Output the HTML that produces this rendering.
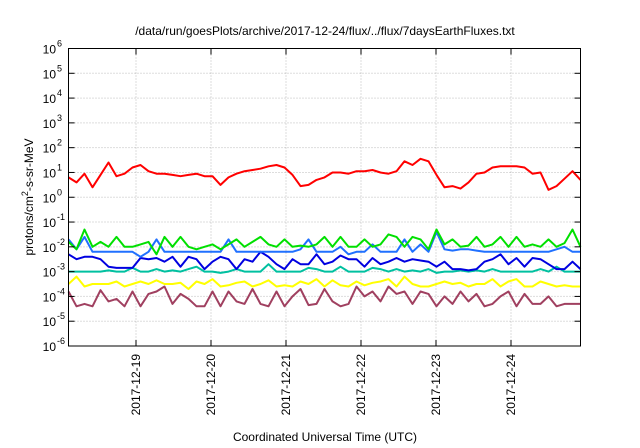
<!DOCTYPE html>
<html><head><meta charset="utf-8"><style>
html,body{margin:0;padding:0;background:#fff;}
svg{display:block;font-family:"Liberation Sans",sans-serif;}
</style></head><body>
<svg id="chart" width="640" height="448" viewBox="0 0 640 448" xmlns="http://www.w3.org/2000/svg">
<text x="325" y="35" font-size="12" text-anchor="middle">/data/run/goesPlots/archive/2017-12-24/flux/../flux/7daysEarthFluxes.txt</text>
<text x="325" y="441" font-size="12" text-anchor="middle">Coordinated Universal Time (UTC)</text>
<text transform="translate(33,197) rotate(-90)" font-size="12" text-anchor="middle">protons/cm<tspan dy="-5" font-size="9">2</tspan><tspan dy="5">-s-sr-MeV</tspan></text>
<g id="grid"></g><g id="series"></g><g id="axes"></g>
</svg>
<script>
const xTickLabels=["2017-12-19","2017-12-20","2017-12-21","2017-12-22","2017-12-23","2017-12-24"];
const xTickPos=[0.0854,0.1829,0.2805,0.3781,0.4756,0.5732]; // fraction of days since 12-18 start mapped below
const yExps=[-6,-5,-4,-3,-2,-1,0,1,2,3,4,5,6];
const red=[0.8,0.6,0.95,0.4,0.9,1.4,0.85,0.95,1.2,1.3,1.05,0.95,0.95,0.9,0.85,0.9,0.95,0.85,0.85,0.5,0.8,0.95,1.05,1.1,1.15,1.25,1.3,1.2,0.9,0.45,0.5,0.7,0.8,1.0,1.0,0.95,1.05,1.05,1.1,1.0,0.95,1.05,1.45,1.3,1.55,1.45,0.9,0.4,0.45,0.35,0.6,0.95,1.0,1.2,1.25,1.25,1.25,1.2,0.95,1.0,0.3,0.45,0.75,1.05,0.7];
const green=[-1.8,-2.1,-1.3,-2.0,-1.8,-2.0,-1.6,-2.0,-2.0,-1.9,-1.8,-2.3,-1.6,-2.0,-1.6,-2.0,-2.1,-2.0,-1.9,-2.1,-1.9,-1.7,-2.0,-1.8,-1.6,-1.9,-2.0,-1.7,-2.0,-1.95,-2.0,-1.9,-1.6,-2.0,-1.6,-2.0,-2.0,-1.7,-2.0,-1.9,-1.5,-1.6,-2.0,-1.6,-1.7,-2.1,-1.3,-1.9,-1.7,-2.0,-1.95,-1.6,-2.0,-1.9,-1.6,-2.0,-1.6,-2.0,-1.9,-2.0,-1.7,-2.0,-1.85,-1.3,-2.0];
const lblue=[-1.7,-2.1,-1.6,-2.2,-2.2,-2.2,-2.2,-2.2,-2.2,-2.4,-2.2,-1.7,-2.2,-2.2,-2.2,-2.2,-2.2,-2.2,-2.2,-2.2,-1.7,-2.2,-2.2,-2.2,-2.2,-2.2,-2.2,-2.2,-2.2,-2.1,-1.7,-2.2,-2.2,-2.2,-2.0,-2.3,-2.2,-2.2,-1.9,-2.2,-2.2,-2.2,-1.7,-2.2,-1.9,-2.2,-1.4,-2.1,-2.15,-2.1,-2.1,-2.15,-2.2,-2.2,-2.2,-2.2,-2.2,-2.2,-2.2,-2.2,-2.2,-2.1,-2.0,-2.2,-2.2];
const blue=[-2.3,-2.5,-2.4,-2.4,-2.5,-2.8,-2.85,-2.85,-2.85,-2.45,-2.5,-2.45,-2.6,-2.4,-2.8,-2.4,-2.5,-2.9,-2.6,-2.4,-2.5,-2.9,-2.5,-2.6,-2.2,-2.4,-2.7,-2.9,-2.5,-2.7,-2.7,-2.3,-2.7,-2.6,-2.35,-2.5,-2.5,-2.8,-2.45,-2.7,-2.6,-2.45,-2.6,-2.5,-2.55,-2.6,-2.8,-2.6,-2.9,-2.9,-2.95,-2.9,-2.6,-2.5,-2.3,-2.7,-2.45,-2.8,-2.45,-2.5,-2.7,-2.9,-2.9,-2.6,-2.9];
const teal=[-3.0,-3.0,-3.0,-3.0,-3.0,-2.95,-3.0,-3.0,-2.85,-3.0,-3.0,-2.9,-3.0,-2.95,-3.0,-2.9,-2.8,-3.0,-3.0,-3.05,-3.0,-2.9,-3.0,-3.0,-3.0,-2.7,-3.0,-3.0,-3.0,-3.0,-2.85,-2.9,-3.0,-3.0,-2.8,-3.0,-3.0,-3.0,-2.85,-2.9,-3.0,-2.9,-3.0,-2.95,-3.0,-2.9,-3.05,-3.0,-3.0,-2.95,-3.0,-2.95,-3.0,-2.9,-3.0,-3.0,-3.0,-3.0,-3.0,-2.9,-3.0,-2.8,-3.0,-3.0,-3.0];
const yellow=[-3.5,-3.2,-3.6,-3.5,-3.5,-3.5,-3.4,-3.6,-3.5,-3.4,-3.5,-3.35,-3.5,-3.5,-3.45,-3.7,-3.4,-3.5,-3.3,-3.6,-3.55,-3.45,-3.4,-3.6,-3.5,-3.35,-3.6,-3.55,-3.6,-3.4,-3.5,-3.3,-3.6,-3.35,-3.55,-3.6,-3.4,-3.55,-3.45,-3.4,-3.3,-3.6,-3.2,-3.5,-3.6,-3.6,-3.5,-3.4,-3.5,-3.45,-3.6,-3.5,-3.5,-3.3,-3.6,-3.4,-3.3,-3.6,-3.6,-3.4,-3.5,-3.6,-3.55,-3.6,-3.6];
const purple=[-3.8,-4.4,-4.3,-4.4,-3.75,-4.2,-4.1,-4.4,-3.8,-4.4,-3.9,-3.8,-3.6,-4.3,-3.9,-4.1,-4.4,-4.4,-3.8,-4.4,-3.8,-4.2,-4.3,-3.7,-4.3,-4.4,-3.8,-4.4,-4.0,-3.7,-4.35,-4.3,-3.7,-4.2,-4.4,-4.3,-3.6,-4.0,-3.8,-4.2,-3.6,-3.9,-3.8,-4.3,-3.8,-3.9,-4.4,-4.0,-4.3,-3.8,-4.2,-3.9,-4.4,-4.3,-4.0,-3.8,-4.4,-3.9,-4.3,-4.3,-4.0,-4.4,-4.3,-4.3,-4.3];
const seriesColors=["#ff0000","#00e000","#2070ff","#0000e0","#00c0a0","#ffff00","#a04060"];

const NS="http://www.w3.org/2000/svg";
const L=68.5,R=580.5,T=48.5,B=346;
const nPts=red.length;
function xScale(i){return L+(R-L)*i/(nPts-1);}
function yScale(e){return B-(B-T)*(e+6)/12;}
const dayPx=75, day19=136;
function dayX(k){return day19+k*dayPx;}
function mk(tag,attrs,parent){const el=document.createElementNS(NS,tag);for(const k in attrs)el.setAttribute(k,attrs[k]);parent.appendChild(el);return el;}
const grid=document.getElementById('grid'),axes=document.getElementById('axes'),ser=document.getElementById('series');
yExps.forEach(e=>{
  const y=yScale(e);
  if(e>-6&&e<6){const g=mk('line',{x1:L,x2:R,y1:y,y2:y,stroke:'#bbb','stroke-dasharray':'1,2','stroke-width':1},grid);
  
  }
  const t1=mk('line',{x1:L,x2:L+6,y1:y,y2:y,stroke:'#000'},axes);
  
  
  mk('line',{x1:R,x2:R-6,y1:y,y2:y,stroke:'#000'},axes);
  const tx=mk('text',{x:56,y:y+5,'font-size':12,'text-anchor':'end'},axes);
  
  
  tx.textContent='10';
  const sp=mk('tspan',{x:57,dy:-7,'font-size':9,'text-anchor':'start'},tx);sp.textContent=String(e);
});
xTickLabels.forEach((lab,k)=>{
  const x=dayX(k);
  const g=mk('line',{x1:x,x2:x,y1:T,y2:B,stroke:'#bbb','stroke-dasharray':'1,2'},grid);
  
  
  mk('line',{x1:x,x2:x,y1:B,y2:B-6,stroke:'#000'},axes);
  mk('line',{x1:x,x2:x,y1:T,y2:T+6,stroke:'#000'},axes);
  const t=mk('text',{transform:`translate(${x+4},354) rotate(-90)`,'font-size':12,'text-anchor':'end'},axes);
  
  
  t.textContent=lab;
});
const frame=mk('rect',{x:L,y:T,width:R-L,height:B-T,fill:'none',stroke:'#000','stroke-width':1},axes);


const allSeries=[red,green,lblue,blue,teal,yellow,purple];
const names=['series-red','series-green','series-light-blue','series-blue','series-teal','series-yellow','series-purple'];
const order=[6,5,4,3,2,1,0];
order.forEach(si=>{
  const d=allSeries[si].map((v,i)=>(i?'L':'M')+xScale(i).toFixed(1)+','+yScale(v).toFixed(1)).join(' ');
  const p=mk('path',{d:d,fill:'none',stroke:seriesColors[si],'stroke-width':2,'stroke-linejoin':'round'},ser);
  
  
});
</script>
</body></html>
